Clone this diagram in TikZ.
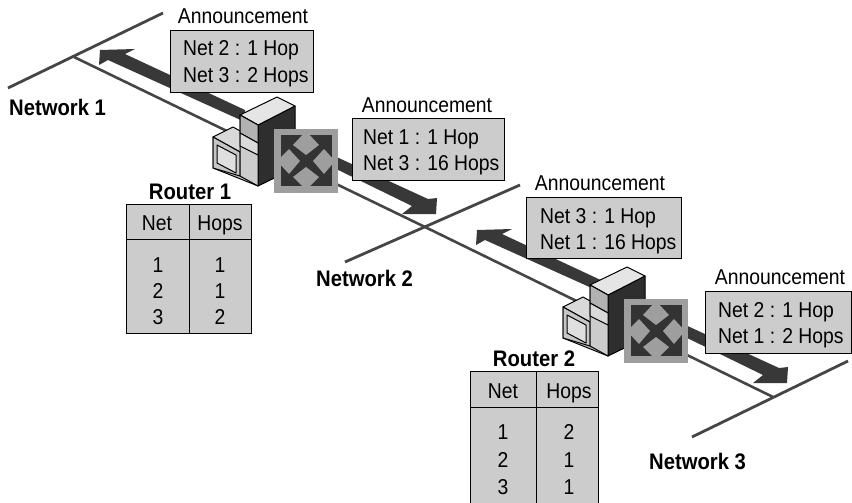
\documentclass[tikz,border=0pt]{standalone}
\usepackage{fontspec}
\setmainfont{Liberation Sans}
\newfontfamily\tallfont[FakeStretch=0.90]{Liberation Sans}
\definecolor{boxgray}{gray}{0.80}
\definecolor{wire}{gray}{0.27}
\definecolor{band}{gray}{0.22}
\definecolor{iconedge}{gray}{0.62}
\definecolor{iconlight}{gray}{0.72}
\tikzset{
  netline/.style={draw=wire,line width=2.8pt},
  linkline/.style={draw=wire,line width=2.6pt},
  flow/.style={fill=band},
  panel/.style={draw=black,line width=0.9pt,fill=boxgray,inner sep=0pt},
  txt/.style={font=\tallfont\fontsize{21.5}{21.5}\selectfont,inner sep=0pt},
  ttl/.style={txt,anchor=base},
  line/.style={txt,anchor=base west},
  cell/.style={txt,anchor=base},
  bold/.style={font=\tallfont\fontsize{22.5}{22.5}\selectfont\bfseries,inner sep=0pt,anchor=base},
  face/.style={draw=black,line width=1pt,line join=round},
  router/.pic={
    \path[face,fill=gray!55] (213,137) -- (240,152) -- (258,162) -- (258,186) -- (213,168) -- cycle;
    \path[face,fill=gray!30] (213,137) -- (233,127) -- (242,132) -- (242,153) -- cycle;
    \path[face,fill=gray!45] (213,137) -- (240,152) -- (240,176) -- (213,168) -- cycle;
    \path[face,fill=gray!25] (217,145) -- (236,155) -- (236,173) -- (217,163) -- cycle;
    \path[face,fill=black!82] (258,125) -- (295,106) -- (295,168) -- (258,186) -- cycle;
    \path[face,fill=gray!20] (240,115) -- (277,97) -- (295,106) -- (258,125) -- cycle;
    \path[face,fill=gray!40] (240,115) -- (258,125) -- (258,186) -- (240,176) -- cycle;
    \path[face,fill=gray!60] (240,115) -- (258,125) -- (258,143) -- (240,133) -- cycle;
    \path[face,fill=gray!30] (240,133) -- (258,143) -- (258,155) -- (240,146) -- cycle;
    \fill[iconedge] (274,129) rectangle (338,193);
    \fill[black!80] (281,135) rectangle (332,186);
    \fill[iconedge] (306,131) -- (319,145) -- (306,155) -- (293,145) -- cycle;
    \fill[iconedge] (306,190) -- (319,177) -- (306,167) -- (293,177) -- cycle;
    \fill[iconedge] (277,161) -- (289,149) -- (300,161) -- (289,174) -- cycle;
    \fill[iconedge] (335,161) -- (324,149) -- (313,161) -- (324,174) -- cycle;
  }
}
\begin{document}
\begin{tikzpicture}[x=1pt,y=-1pt]
\useasboundingbox (0,0) rectangle (852,503);
% networks
\coordinate (n1a) at (8,88);   \coordinate (n1b) at (163,13);
\coordinate (n2a) at (345,262);\coordinate (n2b) at (520,185);
\coordinate (n3a) at (692,437);\coordinate (n3b) at (848,361);
\coordinate (j1) at (74,57); \coordinate (j2) at (425,227); \coordinate (j3) at (773,397);
\draw[netline] (n1a) -- (n1b);
\draw[netline] (n2a) -- (n2b);
\draw[netline] (n3a) -- (n3b);
\draw[linkline] (j1) -- (j2);
\draw[linkline] (j2) -- (j3);
% flows
\fill[flow] (245,110) -- (125,54) -- (135,49) -- (100,50) -- (99,65) -- (108,60) -- (245,122) -- cycle;
\fill[flow] (330,154) -- (428,199) -- (437,198) -- (436,214) -- (402,214) -- (412,206) -- (330,166) -- cycle;
\fill[flow] (605,282) -- (502,234) -- (512,229) -- (477,230) -- (476,245) -- (485,240) -- (605,294) -- cycle;
\fill[flow] (681,323) -- (779,368) -- (788,367) -- (787,383) -- (753,383) -- (763,375) -- (681,335) -- cycle;
% routers
\pic at (0,0) {router};
\pic at (350,170) {router};
% announcements
\node[ttl] (a1t) at (243,24) {Announcement};
\node[panel,minimum width=143pt,minimum height=62pt,anchor=north west] (a1) at (170,30) {};
\node[line] (a1l1) at (183,56) {Net 2 : 1 Hop};
\node[line] (a1l2) at (183,82) {Net 3 : 2 Hops};
\node[ttl] (a2t) at (427,113) {Announcement};
\node[panel,minimum width=152pt,minimum height=62pt,anchor=north west] (a2) at (352,118) {};
\node[line] (a2l1) at (363,144) {Net 1 : 1 Hop};
\node[line] (a2l2) at (363,170) {Net 3 : 16 Hops};
\node[ttl] (a3t) at (600,190) {Announcement};
\node[panel,minimum width=155pt,minimum height=61pt,anchor=north west] (a3) at (526,197) {};
\node[line] (a3l1) at (540,223) {Net 3 : 1 Hop};
\node[line] (a3l2) at (540,249) {Net 1 : 16 Hops};
\node[ttl] (a4t) at (780,284) {Announcement};
\node[panel,minimum width=146pt,minimum height=62pt,anchor=north west] (a4) at (705,291) {};
\node[line] (a4l1) at (718,317) {Net 2 : 1 Hop};
\node[line] (a4l2) at (718,343) {Net 1 : 2 Hops};
% network labels
\node[bold,anchor=base west] (l1) at (9,115) {Network 1};
\node[bold,anchor=base west] (l2) at (316,286) {Network 2};
\node[bold,anchor=base west] (l3) at (649,469) {Network 3};
% table 1
\node[bold] (r1) at (190,199) {Router 1};
\node[panel,minimum width=125pt,minimum height=129pt,anchor=north west] (t1) at (126,204) {};
\draw[black,line width=0.9pt] (126,239) -- (251,239);
\draw[black,line width=0.9pt] (189,204) -- (189,333);
\node[cell] (t1h1) at (157,230) {Net};
\node[cell] (t1h2) at (220,230) {Hops};
\node[cell] (t1a1) at (158,272) {1}; \node[cell] (t1b1) at (220,272) {1};
\node[cell] (t1a2) at (158,298) {2}; \node[cell] (t1b2) at (220,298) {1};
\node[cell] (t1a3) at (158,324) {3}; \node[cell] (t1b3) at (220,324) {2};
% table 2
\node[bold] (r2) at (534,366) {Router 2};
\node[panel,minimum width=128pt,minimum height=132pt,anchor=north west] (t2) at (470,371) {};
\draw[black,line width=0.9pt] (470,407) -- (598,407);
\draw[black,line width=0.9pt] (536,371) -- (536,503);
\node[cell] (t2h1) at (503,398) {Net};
\node[cell] (t2h2) at (569,398) {Hops};
\node[cell] (t2a1) at (503,439) {1}; \node[cell] (t2b1) at (569,439) {2};
\node[cell] (t2a2) at (503,467) {2}; \node[cell] (t2b2) at (569,467) {1};
\node[cell] (t2a3) at (503,494) {3}; \node[cell] (t2b3) at (569,494) {1};
\end{tikzpicture}
\end{document}
